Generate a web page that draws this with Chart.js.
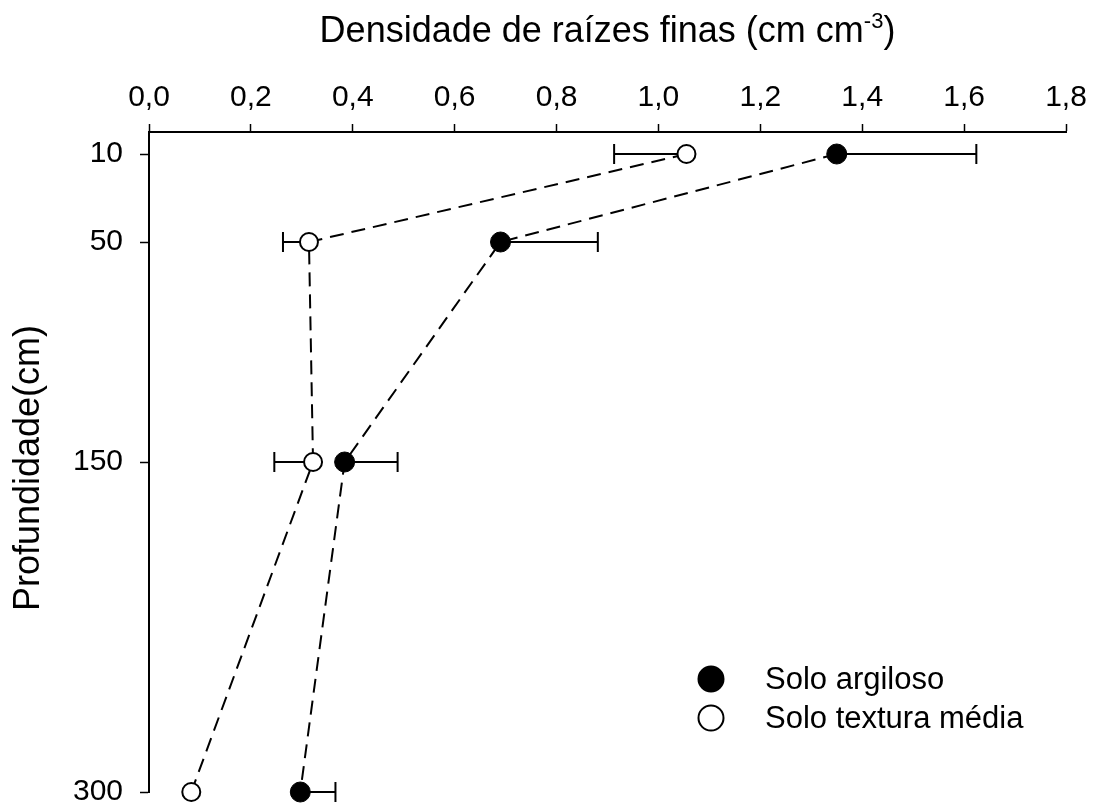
<!DOCTYPE html>
<html>
<head>
<meta charset="utf-8">
<script src="https://cdn.jsdelivr.net/npm/chart.js@4/dist/chart.umd.min.js"></script>
<style>
  html, body { margin: 0; padding: 0; background: #fff; }
  #wrap { width: 1100px; height: 806px; }
</style>
</head>
<body>
<div id="wrap"><canvas id="raizChart" width="1100" height="806"></canvas></div>
<script>
// depths (cm) and root density per soil
const profundidade = [10, 50, 150, 300];
const argiloso = [1.35, 0.69, 0.384, 0.297];
const argilosoErro = [0.274, 0.191, 0.104, 0.069];   // drawn to the right
const textura = [1.055, 0.314, 0.322, 0.083];
const texturaErro = [0.142, 0.051, 0.076, 0];        // drawn to the left
const xTicks = [0, 0.2, 0.4, 0.6, 0.8, 1.0, 1.2, 1.4, 1.6, 1.8];

const FONT = '"Liberation Sans", Arial, Helvetica, sans-serif';

const toPoints = (xs) => xs.map((x, i) => ({ x: x, y: profundidade[i] }));

// error bars under the points
const errorBars = {
  id: 'errorBars',
  beforeDatasetsDraw(chart) {
    const { ctx, scales: { x, y } } = chart;
    const sets = [[argiloso, argilosoErro, 1], [textura, texturaErro, -1]];
    ctx.save();
    ctx.strokeStyle = '#000';
    ctx.lineWidth = 2;
    sets.forEach(([vals, errs, dir]) => {
      vals.forEach((v, i) => {
        if (!errs[i]) return;
        const px = x.getPixelForValue(v);
        const pe = x.getPixelForValue(v + dir * errs[i]);
        const py = y.getPixelForValue(profundidade[i]);
        ctx.beginPath();
        ctx.moveTo(px, py);
        ctx.lineTo(pe, py);
        ctx.moveTo(pe, py - 10);
        ctx.lineTo(pe, py + 10);
        ctx.stroke();
      });
    });
    ctx.restore();
  }
};

// titles + legend drawn by hand (superscript, legend inside plot)
const decorations = {
  id: 'decorations',
  afterDraw(chart) {
    const { ctx, chartArea: a } = chart;
    ctx.save();
    ctx.fillStyle = '#000';
    ctx.textBaseline = 'alphabetic';

    // x title with superscript
    const main = 'Densidade de raízes finas (cm cm';
    const sup = '-3';
    const end = ')';
    ctx.font = '36px ' + FONT;
    const wMain = ctx.measureText(main).width;
    const wEnd = ctx.measureText(end).width;
    ctx.font = '22px ' + FONT;
    const wSup = ctx.measureText(sup).width;
    let tx = (a.left + a.right) / 2 - (wMain + wSup + wEnd) / 2;
    const ty = 42;
    ctx.textAlign = 'left';
    ctx.font = '36px ' + FONT;
    ctx.fillText(main, tx, ty);
    tx += wMain;
    ctx.font = '22px ' + FONT;
    ctx.fillText(sup, tx, ty - 14);
    tx += wSup;
    ctx.font = '36px ' + FONT;
    ctx.fillText(end, tx, ty);

    // y title
    ctx.save();
    ctx.translate(29, 468);
    ctx.rotate(-Math.PI / 2);
    ctx.textAlign = 'center';
    ctx.textBaseline = 'middle';
    ctx.font = '36px ' + FONT;
    ctx.fillText('Profundidade(cm)', 0, 0);
    ctx.restore();

    // legend
    const lx = a.left + 562;
    const rows = [
      { label: 'Solo argiloso', fill: '#000', y: a.top + 547 },
      { label: 'Solo textura média', fill: '#fff', y: a.top + 586 }
    ];
    rows.forEach(r => {
      ctx.beginPath();
      ctx.arc(lx, r.y, 12.5, 0, Math.PI * 2);
      ctx.fillStyle = r.fill;
      ctx.fill();
      ctx.lineWidth = 2;
      ctx.strokeStyle = '#000';
      ctx.stroke();
      ctx.fillStyle = '#000';
      ctx.font = '31px ' + FONT;
      ctx.textAlign = 'left';
      ctx.textBaseline = 'middle';
      ctx.fillText(r.label, lx + 54, r.y + 1);
    });
    ctx.restore();
  }
};

const ctx = document.getElementById('raizChart').getContext('2d');
new Chart(ctx, {
  type: 'scatter',
  data: {
    datasets: [
      {
        label: 'Solo argiloso',
        data: toPoints(argiloso),
        showLine: true,
        borderColor: '#000',
        borderWidth: 2,
        borderDash: [14, 8],
        pointRadius: 10,
        pointBackgroundColor: '#000',
        pointBorderColor: '#000',
        pointBorderWidth: 1,
        clip: false
      },
      {
        label: 'Solo textura média',
        data: toPoints(textura),
        showLine: true,
        borderColor: '#000',
        borderWidth: 2,
        borderDash: [14, 8],
        pointRadius: 9,
        pointBackgroundColor: '#fff',
        pointBorderColor: '#000',
        pointBorderWidth: 2,
        clip: false
      }
    ]
  },
  options: {
    responsive: false,
    animation: false,
    layout: { padding: { left: 0, top: 0, right: 34, bottom: 14 } },
    plugins: {
      legend: { display: false },
      tooltip: { enabled: false }
    },
    scales: {
      x: {
        type: 'linear',
        position: 'top',
        min: 0,
        max: 1.8,
        afterFit: (s) => { s.height = 132; s.paddingLeft = 0; s.paddingRight = 0; },
        afterBuildTicks: (s) => { s.ticks = xTicks.map(v => ({ value: v })); },
        grid: {
          drawOnChartArea: false,
          drawTicks: true,
          tickLength: 8,
          tickWidth: 1.5,
          tickColor: '#000'
        },
        border: { display: true, color: '#000', width: 2 },
        ticks: {
          color: '#000',
          padding: 8,
          maxRotation: 0,
          font: { family: FONT, size: 30 },
          callback: (v) => v.toFixed(1).replace('.', ',')
        }
      },
      y: {
        type: 'linear',
        position: 'left',
        reverse: true,
        min: 0,
        max: 300,
        afterFit: (s) => { s.width = 149; s.paddingTop = 0; s.paddingBottom = 0; },
        afterBuildTicks: (s) => { s.ticks = profundidade.map(v => ({ value: v })); },
        grid: {
          drawOnChartArea: false,
          drawTicks: true,
          tickLength: 9,
          tickWidth: 1.5,
          tickColor: '#000'
        },
        border: { display: true, color: '#000', width: 2 },
        ticks: {
          color: '#000',
          padding: 17,
          font: { family: FONT, size: 30 },
          callback: (v) => String(v)
        }
      }
    }
  },
  plugins: [errorBars, decorations]
});
</script>
</body>
</html>
